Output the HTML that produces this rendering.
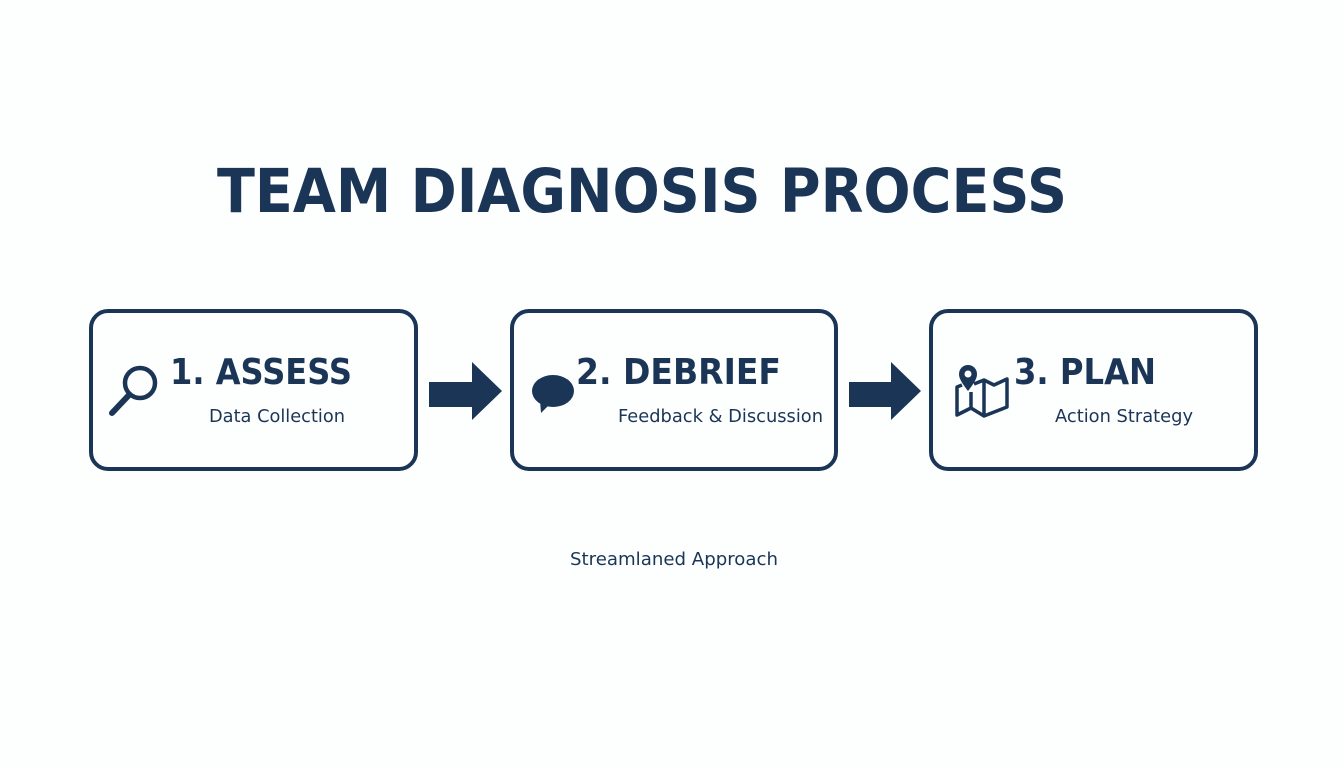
<!DOCTYPE html>
<html><head><meta charset="utf-8"><style>
html,body{margin:0;padding:0;background:#fdfefe;}
svg{display:block}
text{font-family:"DejaVu Sans","Liberation Sans",sans-serif;fill:#1b3557}
</style></head><body>
<svg width="1344" height="768" viewBox="0 0 1344 768" xmlns="http://www.w3.org/2000/svg">
<rect width="1344" height="768" fill="#fdfefe"/>
<text x="217" y="212" font-size="61" font-weight="bold" textLength="850" lengthAdjust="spacingAndGlyphs">TEAM DIAGNOSIS PROCESS</text>

<g fill="none" stroke="#1b3557" stroke-width="4">
<rect x="91" y="311" width="325" height="158" rx="17"/>
<rect x="512" y="311" width="324" height="158" rx="17"/>
<rect x="931" y="311" width="325" height="158" rx="17"/>
</g>

<g fill="#1b3557">
<polygon points="429,382 472,382 472,362 502,391 472,420 472,407 429,407"/>
<polygon points="849,382 891,382 891,362 921,391 891,420 891,407 849,407"/>
</g>

<!-- magnifier -->
<circle cx="140" cy="383" r="15" fill="none" stroke="#1b3557" stroke-width="4.5"/>
<line x1="129" y1="395" x2="112" y2="413" stroke="#1b3557" stroke-width="6" stroke-linecap="round"/>
<text x="170" y="384" font-size="36" font-weight="bold" textLength="182" lengthAdjust="spacingAndGlyphs">1. ASSESS</text>
<text x="209" y="422" font-size="18" textLength="136" lengthAdjust="spacingAndGlyphs">Data Collection</text>

<!-- speech bubble -->
<ellipse cx="553" cy="391" rx="21" ry="16" fill="#1b3557"/>
<polygon points="540,400 541,413 552,402" fill="#1b3557"/>
<text x="576" y="384" font-size="36" font-weight="bold" textLength="205" lengthAdjust="spacingAndGlyphs">2. DEBRIEF</text>
<text x="618" y="422" font-size="18" textLength="205" lengthAdjust="spacingAndGlyphs">Feedback &amp; Discussion</text>

<!-- map -->
<g fill="none" stroke="#1b3557" stroke-width="3.5" stroke-linejoin="round">
<polyline points="962,385 957,387 957,415 971,408 984,416 1007,407 1007,379 994,385 984,380 974,384"/>
<line x1="971" y1="392" x2="971" y2="408"/>
<line x1="984" y1="380" x2="984" y2="416"/>
</g>
<path d="M968,391 C961,382 959,378 959,374 A9,9 0 0 1 977,374 C977,378 975,382 968,391 Z" fill="#1b3557"/>
<circle cx="968" cy="374" r="3.5" fill="#fdfefe"/>
<text x="1014" y="384" font-size="36" font-weight="bold" textLength="142" lengthAdjust="spacingAndGlyphs">3. PLAN</text>
<text x="1055" y="422" font-size="18" textLength="138" lengthAdjust="spacingAndGlyphs">Action Strategy</text>

<text x="570" y="565" font-size="18" textLength="208" lengthAdjust="spacingAndGlyphs">Streamlaned Approach</text>
</svg>
</body></html>
